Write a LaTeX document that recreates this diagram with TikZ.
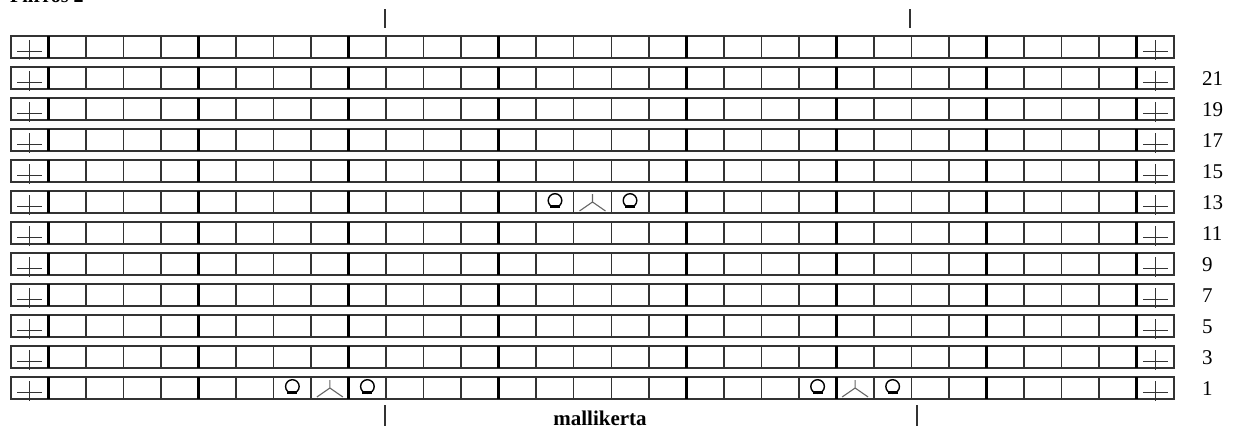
\documentclass[tikz,border=0pt]{standalone}
\usepackage{fontspec}
\setmainfont{Liberation Serif}
\usetikzlibrary{positioning}

\tikzset{
  gridline/.style={draw=black!80,line width=1.5pt},
  gridthick/.style={draw=black,line width=2.9pt},
  plusmark/.style={draw=black!80,line width=1.1pt},
  kavlinja/.style={draw=black!60,line width=1.1pt},
  rowno/.style={font=\fontsize{21}{22}\selectfont,anchor=west,inner sep=0pt},
  tick/.style={draw=black!80,line width=1.4pt}
}

% one cell = 37.516 px, first cell edge at x=11, first row top at y=36
\newcommand{\langankierto}[2]{%
  \pgfmathsetmacro\cx{11+(#1+0.5)*37.516}
  \pgfmathsetmacro\cy{36+31*#2+9.5}
  \draw[line width=1.4pt] (\cx,\cy) circle[radius=6.8];
  \draw[line width=3.2pt] (\cx-5,\cy+5.6) -- (\cx+5,\cy+5.6);
}
\newcommand{\kavennus}[2]{%
  \pgfmathsetmacro\cx{11+(#1+0.5)*37.516}
  \pgfmathsetmacro\yt{36+31*#2}
  \draw[kavlinja] (\cx,\yt+3) -- (\cx,\yt+11)
    (\cx-13,\yt+20) -- (\cx,\yt+11) -- (\cx+13,\yt+20);
}

\begin{document}
\begin{tikzpicture}[x=1pt,y=-1pt,line cap=butt]
  \useasboundingbox (0,0) rectangle (1249,432);

  \node[font=\bfseries\fontsize{20}{21}\selectfont,anchor=base west,inner sep=0pt] (otsikko) at (10,2) {Piirros 2};

  \foreach \r in {0,...,11}{
    \pgfmathsetmacro\yt{36+31*\r}
    \draw[gridline] (11,\yt) rectangle (1174,\yt+22);
    \foreach \i in {2,3,4,6,7,8,10,11,12,14,15,16,17,19,20,21,23,24,25,27,28,29}
      \draw[gridline] ({11+\i*37.516},\yt) -- ++(0,22);
    \foreach \i in {1,5,9,13,18,22,26,30}
      \draw[gridthick] ({11+\i*37.516},\yt) -- ++(0,22);
    % reunasilmukat
    \draw[plusmark] (17,\yt+15.5) -- (42,\yt+15.5) (29.8,\yt+4) -- (29.8,\yt+24);
    \draw[plusmark] (1143,\yt+15.5) -- (1168,\yt+15.5) (1155.6,\yt+4) -- (1155.6,\yt+24);
  }

  \foreach \n [count=\r] in {21,19,...,1}
    \node[rowno] (k\n) at (1202,{36+31*\r+12}) {\n};

  % kuvio
  \langankierto{7}{11} \kavennus{8}{11} \langankierto{9}{11}
  \langankierto{21}{11} \kavennus{22}{11} \langankierto{23}{11}
  \langankierto{14}{5} \kavennus{15}{5} \langankierto{16}{5}

  % mallikerta
  \coordinate (y1) at (385,9);   \coordinate (y2) at (385,28);
  \coordinate (y3) at (910,9);   \coordinate (y4) at (910,28);
  \coordinate (a1) at (385,405); \coordinate (a2) at (385,426);
  \coordinate (a3) at (917,405); \coordinate (a4) at (917,426);
  \draw[tick] (y1) -- (y2) (y3) -- (y4) (a1) -- (a2) (a3) -- (a4);
  \node[font=\bfseries\fontsize{21}{22}\selectfont,inner sep=0pt] (mallikerta) at (600,418) {mallikerta};
\end{tikzpicture}
\end{document}
